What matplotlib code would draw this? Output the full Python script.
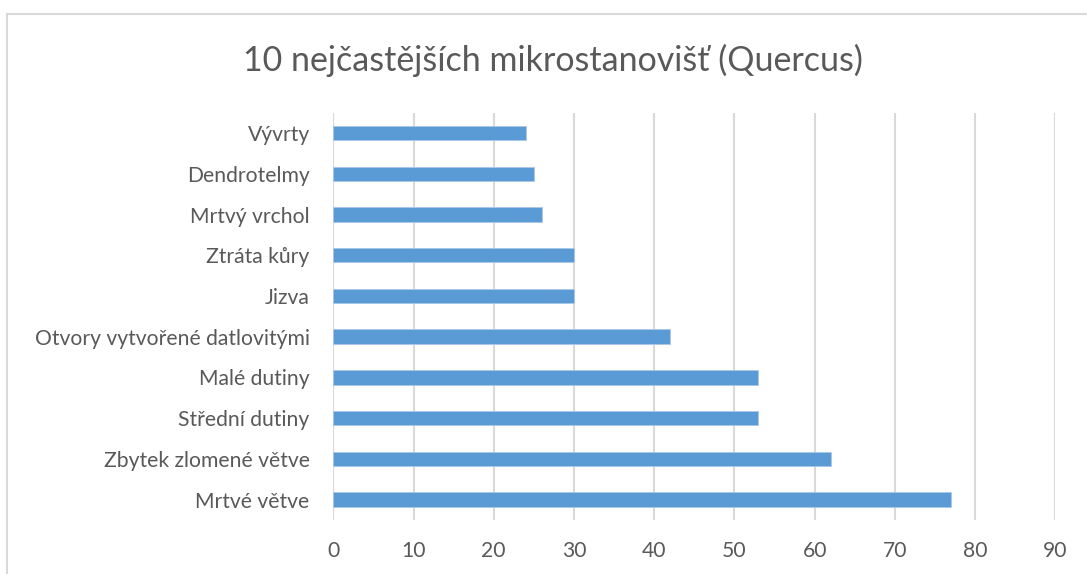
import matplotlib.pyplot as plt
from matplotlib.patches import Rectangle

# data (top to bottom as in the chart)
categories = ['Vývrty', 'Dendrotelmy', 'Mrtvý vrchol', 'Ztráta kůry', 'Jizva',
              'Otvory vytvořené datlovitými', 'Malé dutiny', 'Střední dutiny',
              'Zbytek zlomené větve', 'Mrtvé větve']
values = [24, 25, 26, 30, 30, 42, 53, 53, 62, 77]
xticks = [0, 10, 20, 30, 40, 50, 60, 70, 80, 90]
title = '10 nejčastějších mikrostanovišť (Quercus)'

text_col = '#595959'
grid_col = '#d9d9d9'
bar_col = '#5b9bd5'

plt.rcParams['font.family'] = ['Lato', 'DejaVu Sans']

W, H = 1087, 574
fig = plt.figure(figsize=(W / 100, H / 100), dpi=100)

# chart border (Excel style, cut off on right/bottom)
fig.patches.append(Rectangle((7 / W, -0.1), 1.2, (H - 14) / H + 0.1,
                             transform=fig.transFigure, fill=False,
                             edgecolor=grid_col, linewidth=1.5))

ax = fig.add_axes([333.3 / W, (H - 520) / H, (1055.3 - 333.3) / W, (520 - 112.7) / H])

n = len(categories)
pos = list(range(n))[::-1]
ax.barh(pos, values, height=0.355, color=bar_col, edgecolor='#a9c8e8', linewidth=0.6, zorder=3)

ax.set_xlim(0, 90)
ax.set_ylim(-0.5, n - 0.5)
ax.set_xticks(xticks)
ax.set_xticklabels([str(t) for t in xticks])
ax.set_yticks(pos)
ax.set_yticklabels(categories)

ax.grid(axis='x', color=grid_col, linewidth=1.5, zorder=0)
ax.grid(axis='y', visible=False)
for s in ax.spines.values():
    s.set_visible(False)
ax.tick_params(axis='both', length=0, colors=text_col, labelsize=15.2)
ax.tick_params(axis='x', pad=15)
ax.tick_params(axis='y', pad=17)

fig.text(553 / W, (H - 60) / H, title, ha='center', va='center',
         fontsize=24.5, color=text_col)

fig.savefig('out.png', dpi=100)
